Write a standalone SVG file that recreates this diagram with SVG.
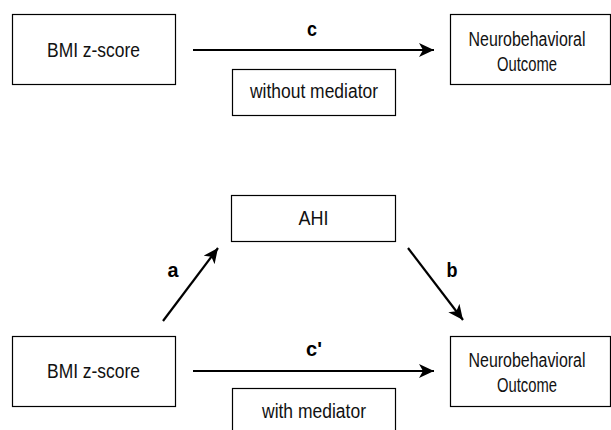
<svg xmlns="http://www.w3.org/2000/svg" width="611" height="430" viewBox="0 0 611 430">
<style>
.box{fill:#fff;stroke:#000;stroke-width:1.2}
.t{font-family:"Liberation Sans",Arial,sans-serif;font-size:19.5px;fill:#111;text-anchor:middle}
.lbl{font-family:"Liberation Sans",Arial,sans-serif;font-size:20px;font-weight:bold;fill:#000;text-anchor:middle}
.edge{stroke:#000;stroke-width:2.2;fill:none;marker-end:url(#arr)}
</style>
<defs>
<marker id="arr" markerUnits="userSpaceOnUse" markerWidth="16" markerHeight="14" viewBox="0 0 16 14" refX="15" refY="7" orient="auto">
<path d="M0,0 L15,7 L0,14 L4,7 Z" fill="#000"/>
</marker>
</defs>
<rect width="611" height="430" fill="#fff"/>
<g id="connectors">
<line class="edge" x1="193" y1="50" x2="434" y2="50"/>
<line class="edge" x1="163" y1="321" x2="218" y2="248"/>
<line class="edge" x1="408" y1="248" x2="463" y2="320"/>
<line class="edge" x1="193" y1="371" x2="434" y2="371"/>
</g>
<g id="edge-labels">
<text class="lbl" x="312" y="36" textLength="10" lengthAdjust="spacingAndGlyphs">c</text>
<text class="lbl" x="173" y="277" textLength="11" lengthAdjust="spacingAndGlyphs">a</text>
<text class="lbl" x="452" y="277" textLength="11" lengthAdjust="spacingAndGlyphs">b</text>
<text class="lbl" x="314" y="356">c'</text>
</g>
<g id="bmi-top">
<rect class="box" x="12.5" y="14.5" width="163" height="70"/>
<text class="t" x="93.5" y="57" textLength="93" lengthAdjust="spacingAndGlyphs">BMI z-score</text>
</g>
<g id="outcome-top">
<rect class="box" x="450.5" y="14.5" width="160" height="70"/>
<text class="t" x="527" y="46" textLength="117" lengthAdjust="spacingAndGlyphs">Neurobehavioral</text>
<text class="t" x="527" y="71" textLength="60" lengthAdjust="spacingAndGlyphs">Outcome</text>
</g>
<g id="without-mediator">
<rect class="box" x="232.5" y="69.5" width="163" height="46"/>
<text class="t" x="314" y="98" textLength="128" lengthAdjust="spacingAndGlyphs">without mediator</text>
</g>
<g id="ahi">
<rect class="box" x="231.5" y="195.5" width="164" height="46"/>
<text class="t" x="313.5" y="225" textLength="30" lengthAdjust="spacingAndGlyphs">AHI</text>
</g>
<g id="bmi-bottom">
<rect class="box" x="12.5" y="336.5" width="163" height="70"/>
<text class="t" x="93.5" y="378" textLength="93" lengthAdjust="spacingAndGlyphs">BMI z-score</text>
</g>
<g id="outcome-bottom">
<rect class="box" x="450.5" y="336.5" width="160" height="70"/>
<text class="t" x="527" y="367" textLength="117" lengthAdjust="spacingAndGlyphs">Neurobehavioral</text>
<text class="t" x="527" y="392" textLength="60" lengthAdjust="spacingAndGlyphs">Outcome</text>
</g>
<g id="with-mediator">
<rect class="box" x="232.5" y="388.5" width="163" height="50"/>
<text class="t" x="314" y="418" textLength="104" lengthAdjust="spacingAndGlyphs">with mediator</text>
</g>
</svg>
